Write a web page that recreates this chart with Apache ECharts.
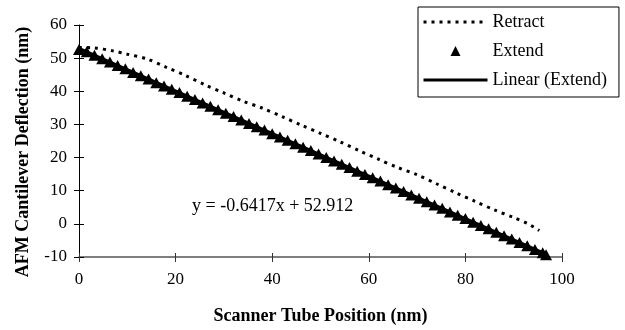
<!DOCTYPE html>
<html>
<head>
<meta charset="utf-8">
<script src="https://cdn.jsdelivr.net/npm/echarts@6/dist/echarts.min.js"></script>
<style>
html,body{margin:0;padding:0;background:#fff;}
#chart{width:625px;height:330px;}
</style>
</head>
<body>
<div id="chart"></div>
<script>
// ---- Data ----
var xTicks = [0, 20, 40, 60, 80, 100];
var yTicks = [-10, 0, 10, 20, 30, 40, 50, 60];

var extendX = [0, 1.6, 3.2, 4.8, 6.4, 8.0, 9.6, 11.2, 12.8, 14.4, 16.0, 17.6, 19.2, 20.8, 22.4, 24.0, 25.6, 27.2, 28.8, 30.4,
  32.0, 33.6, 35.2, 36.8, 38.4, 40.0, 41.6, 43.2, 44.8, 46.4, 48.0, 49.6, 51.2, 52.8, 54.4, 56.0, 57.6, 59.2, 60.8, 62.4,
  64.0, 65.6, 67.2, 68.8, 70.4, 72.0, 73.6, 75.2, 76.8, 78.4, 80.0, 81.6, 83.2, 84.8, 86.4, 88.0, 89.6, 91.2, 92.8, 94.4, 96.0, 96.7];
var extendY = [52.6, 51.9, 50.9, 49.8, 48.8, 47.8, 46.8, 45.7, 44.7, 43.7, 42.6, 41.6, 40.6, 39.6, 38.5, 37.5, 36.5, 35.5, 34.4, 33.4,
  32.4, 31.3, 30.3, 29.3, 28.3, 27.2, 26.2, 25.2, 24.2, 23.1, 22.1, 21.1, 20.0, 19.0, 18.0, 17.0, 15.9, 14.9, 13.9, 12.9,
  11.8, 10.8, 9.8, 8.7, 7.7, 6.7, 5.7, 4.7, 3.6, 2.6, 1.6, 0.5, -0.5, -1.5, -2.5, -3.6, -4.6, -5.6, -6.6, -7.7, -8.7, -9.3];

var retractX = [0, 3, 7, 10, 14, 18, 22, 26, 30, 34, 38, 42, 46, 50, 54, 58, 62, 66, 70, 74, 78, 82, 86, 90, 93, 95.3];
var retractY = [53.2, 53.1, 52.2, 51.2, 49.8, 47.3, 44.8, 42.0, 39.5, 37.0, 34.9, 32.4, 29.8, 27.3, 24.8, 22.1, 19.5, 17.0, 14.8, 12.1, 9.4, 6.8, 4.2, 1.9, 0.0, -2.0];

var trendX = [0, 96.7];
var trendY = [52.912, -9.14];

var equationText = 'y = -0.6417x + 52.912';

function zip(a, b) { return a.map(function (v, i) { return [v, b[i]]; }); }

var FONT = 'Liberation Serif';
var chart = echarts.init(document.getElementById('chart'), null, {renderer: 'canvas'});

var baseX = {
  type: 'value', min: xTicks[0], max: xTicks[xTicks.length - 1], interval: 20,
  splitLine: {show: false}
};
var baseY = {
  type: 'value', min: yTicks[0], max: yTicks[yTicks.length - 1], interval: 10,
  splitLine: {show: false}
};

var NOSYM = 'rgba(0,0,0,0)';

chart.setOption({
  animation: false,
  backgroundColor: '#fff',
  textStyle: {fontFamily: FONT, color: '#000'},
  grid: {left: 79, right: 63, top: 25, bottom: 69, containLabel: false},
  xAxis: [
    Object.assign({}, baseX, {
      position: 'bottom',
      name: 'Scanner Tube Position (nm)',
      nameLocation: 'middle',
      nameGap: 50,
      nameTextStyle: {fontFamily: FONT, fontWeight: 'bold', fontSize: 18, color: '#000'},
      axisLine: {show: true, onZero: false, lineStyle: {color: '#555', width: 1.5}},
      axisTick: {show: true, inside: false, length: 5, lineStyle: {color: '#333'}},
      axisLabel: {fontFamily: FONT, fontSize: 17, color: '#000', margin: 14}
    }),
    Object.assign({}, baseX, {
      position: 'bottom',
      axisLine: {show: false, onZero: false},
      axisTick: {show: true, inside: true, length: 4, lineStyle: {color: '#333'}},
      axisLabel: {show: false}
    })
  ],
  yAxis: [
    Object.assign({}, baseY, {
      position: 'left',
      name: 'AFM Cantilever Deflection (nm)',
      nameLocation: 'middle',
      nameGap: 47,
      nameTextStyle: {fontFamily: FONT, fontWeight: 'bold', fontSize: 18, color: '#000', padding: [0, 22, 0, 0]},
      axisLine: {show: true, onZero: false, lineStyle: {color: '#000', width: 1}},
      axisTick: {show: true, inside: false, length: 5, lineStyle: {color: '#000'}},
      axisLabel: {fontFamily: FONT, fontSize: 17, color: '#000', margin: 12}
    }),
    Object.assign({}, baseY, {
      position: 'left',
      axisLine: {show: false, onZero: false},
      axisTick: {show: true, inside: true, length: 5, lineStyle: {color: '#000'}},
      axisLabel: {show: false}
    })
  ],
  legend: {
    orient: 'vertical',
    left: 418,
    top: 7,
    padding: [6, 12, 8, 4],
    borderColor: '#000',
    borderWidth: 1,
    backgroundColor: '#fff',
    itemWidth: 64,
    itemHeight: 10,
    itemGap: 11,
    textStyle: {fontFamily: FONT, fontSize: 18, color: '#000', lineHeight: 18},
    data: [
      {name: 'Retract', itemStyle: {opacity: 0}, lineStyle: {width: 3, type: [3, 5]}},
      {name: 'Extend', icon: 'path://M0,0 M64,11 M26.5,11 L32,0 L37.5,11 Z'},
      {name: 'Linear (Extend)', itemStyle: {opacity: 0}, lineStyle: {width: 3}}
    ]
  },
  graphic: [{
    type: 'text',
    left: 192,
    top: 197,
    style: {text: equationText, font: '18px "Liberation Serif"', fill: '#000'}
  }],
  series: [
    {
      name: 'Retract',
      type: 'line',
      data: zip(retractX, retractY),
      showSymbol: false,
      smooth: 0.3,
      lineStyle: {color: '#000', width: 3, type: [3, 5]},
      itemStyle: {color: NOSYM},
      z: 3
    },
    {
      name: 'Linear (Extend)',
      type: 'line',
      data: zip(trendX, trendY),
      showSymbol: false,
      lineStyle: {color: '#000', width: 3},
      itemStyle: {color: NOSYM},
      z: 2
    },
    {
      name: 'Extend',
      type: 'scatter',
      data: zip(extendX, extendY),
      symbol: 'triangle',
      symbolSize: [12, 11],
      itemStyle: {color: '#000', opacity: 1},
      z: 4
    }
  ]
});
</script>
</body>
</html>
